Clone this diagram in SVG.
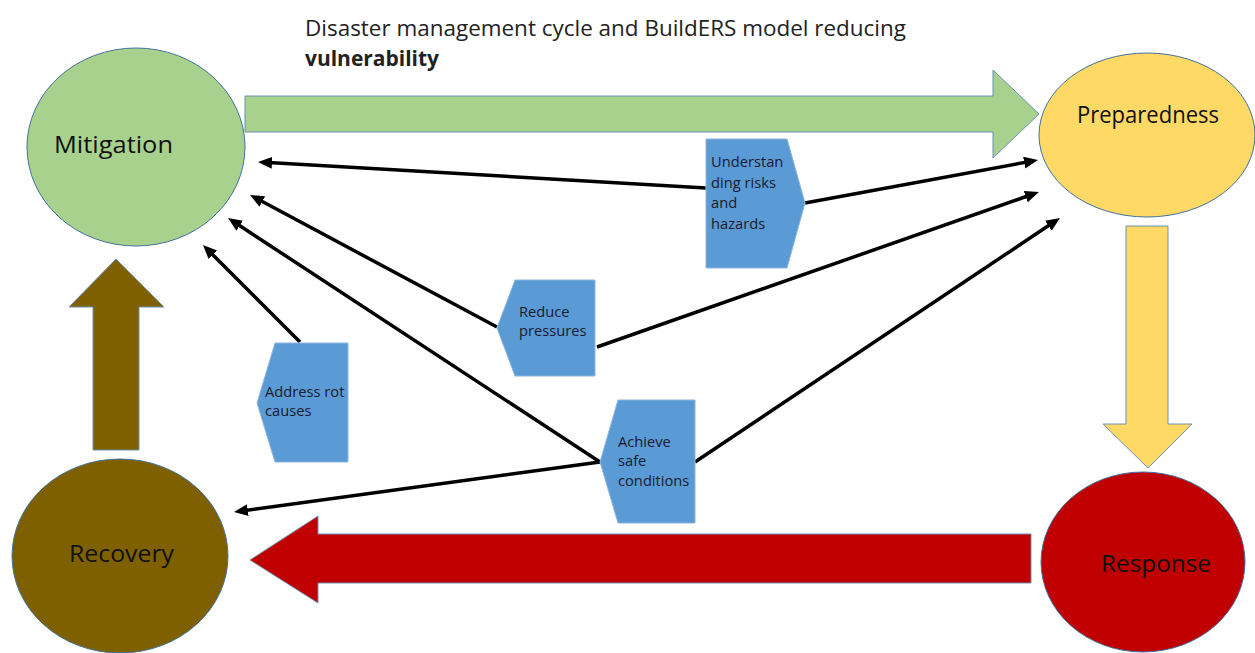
<svg xmlns="http://www.w3.org/2000/svg" width="1255" height="653" viewBox="0 0 1255 653">
  <style>
    .phase { stroke: #41719C; stroke-width: 1; }
    .big { stroke: #6D8FB3; stroke-width: 1; }
    .lbl { font-family: "Open Sans", "Liberation Sans", sans-serif; font-size: 23px; fill: #111; }
    .tag { fill: #5B9BD5; stroke: #8FB4DE; stroke-width: 1; }
    .tagtxt { font-family: "Open Sans", "Liberation Sans", sans-serif; font-size: 14.7px; fill: #1A1A2E; }
    .link { stroke: #000; stroke-width: 3.5; fill: none; marker-end: url(#head); }
    .title { font-family: "Open Sans", "Liberation Sans", sans-serif; font-size: 21px; fill: #222; }
  </style>
  <defs>
    <marker id="head" markerUnits="userSpaceOnUse" markerWidth="16" markerHeight="14" refX="8" refY="6" orient="auto">
      <path d="M0,0 L14,6 L0,12 Z" fill="#000"/>
    </marker>
  </defs>
  <rect width="1255" height="653" fill="#fff"/>

  <!-- heading -->
  <text class="title" x="305" y="36" textLength="601" lengthAdjust="spacingAndGlyphs">Disaster management cycle and BuildERS model reducing</text>
  <text class="title" x="305" y="66" font-weight="bold" textLength="134" lengthAdjust="spacingAndGlyphs">vulnerability</text>

  <!-- cycle arrows between phases -->
  <g id="cycle">
    <path class="big" fill="#A9D18E" d="M245,96 L993,96 L993,70 L1039,114 L993,158 L993,132 L245,132 Z"/>
    <path class="big" fill="#FFD966" d="M1126,226 L1168,226 L1168,424 L1192,424 L1148,468 L1103,424 L1126,424 Z"/>
    <path class="big" fill="#C00000" d="M1031,534 L318,534 L318,516 L250,560 L318,603 L318,583 L1031,583 Z"/>
    <path class="big" fill="#7F6000" d="M93,450 L93,307 L69,307 L116,259 L164,307 L139,307 L139,450 Z"/>
  </g>

  <!-- phases -->
  <g id="mitigation">
    <ellipse class="phase" cx="136" cy="147" rx="109" ry="99" fill="#A9D18E"/>
    <text class="lbl" x="54" y="153" textLength="119" lengthAdjust="spacingAndGlyphs">Mitigation</text>
  </g>
  <g id="preparedness">
    <ellipse class="phase" cx="1147" cy="135" rx="108" ry="82" fill="#FFD966"/>
    <text class="lbl" x="1077" y="123" textLength="142" lengthAdjust="spacingAndGlyphs">Preparedness</text>
  </g>
  <g id="response">
    <ellipse class="phase" cx="1143" cy="562" rx="102" ry="90" fill="#C00000"/>
    <text class="lbl" x="1101" y="572" textLength="110" lengthAdjust="spacingAndGlyphs">Response</text>
  </g>
  <g id="recovery">
    <ellipse class="phase" cx="120" cy="556" rx="108" ry="97" fill="#7F6000"/>
    <text class="lbl" x="69" y="562" textLength="105" lengthAdjust="spacingAndGlyphs">Recovery</text>
  </g>

  <!-- BuildERS connectors -->
  <g id="connectors">
    <line class="link" x1="706" y1="188" x2="264" y2="162.3"/>
    <line class="link" x1="805" y1="203" x2="1032.1" y2="161.1"/>
    <line class="link" x1="497" y1="327" x2="255.3" y2="197.8"/>
    <line class="link" x1="597" y1="347" x2="1033.3" y2="194"/>
    <line class="link" x1="300" y1="342" x2="207.2" y2="249.2"/>
    <line class="link" x1="600" y1="462" x2="233" y2="221.3"/>
    <line class="link" x1="600" y1="462" x2="239.9" y2="511.2"/>
    <line class="link" x1="695" y1="462" x2="1055" y2="221.3"/>
  </g>

  <!-- BuildERS actions -->
  <g id="understanding">
    <path class="tag" d="M706,139 L787,139 L805,203 L787,268 L706,268 Z"/>
    <text class="tagtxt" x="711" y="167">Understan</text>
    <text class="tagtxt" x="711" y="188">ding risks</text>
    <text class="tagtxt" x="711" y="208">and</text>
    <text class="tagtxt" x="711" y="229">hazards</text>
  </g>
  <g id="reduce">
    <path class="tag" d="M515,280 L595,280 L595,376 L515,376 L497,328 Z"/>
    <text class="tagtxt" x="519" y="317">Reduce</text>
    <text class="tagtxt" x="519" y="336">pressures</text>
  </g>
  <g id="address">
    <path class="tag" d="M275,343 L348,343 L348,462 L275,462 L257,403 Z"/>
    <text class="tagtxt" x="265" y="397">Address rot</text>
    <text class="tagtxt" x="265" y="416">causes</text>
  </g>
  <g id="achieve">
    <path class="tag" d="M618,400 L695,400 L695,523 L618,523 L600,462 Z"/>
    <text class="tagtxt" x="618" y="447">Achieve</text>
    <text class="tagtxt" x="618" y="466">safe</text>
    <text class="tagtxt" x="618" y="486">conditions</text>
  </g>
</svg>
